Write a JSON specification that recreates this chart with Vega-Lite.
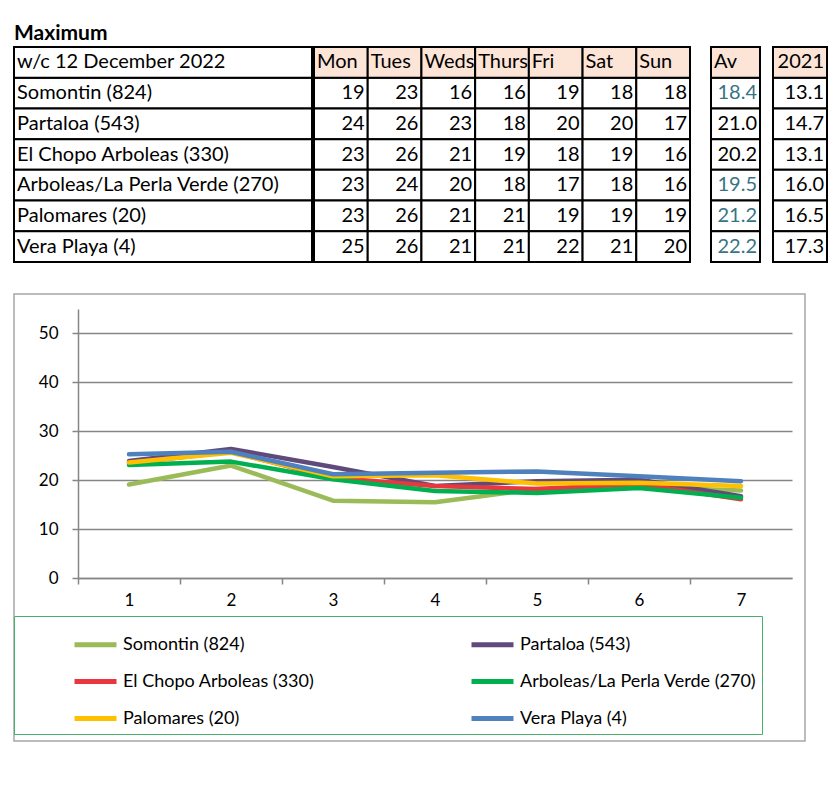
{
  "$schema": "https://vega.github.io/schema/vega-lite/v6.json",
  "background": "white",
  "padding": {"left": 13, "top": 23, "right": 5, "bottom": 5},
  "config": {
    "font": "Lato",
    "view": {"stroke": null},
    "text": {"font": "Lato"},
    "title": {"font": "Lato"}
  },
  "title": {"text": "Maximum", "anchor": "start", "fontSize": 21, "fontWeight": "bold", "color": "#000000", "offset": 2, "frame": "group"},
  "spacing": 30,
  "datasets": {
    "daily": [
      {"station": "Somontin (824)", "day": "Mon", "n": 1, "max": 19, "plot": 19.1},
      {"station": "Somontin (824)", "day": "Tues", "n": 2, "max": 23, "plot": 23.0},
      {"station": "Somontin (824)", "day": "Weds", "n": 3, "max": 16, "plot": 15.8},
      {"station": "Somontin (824)", "day": "Thurs", "n": 4, "max": 16, "plot": 15.5},
      {"station": "Somontin (824)", "day": "Fri", "n": 5, "max": 19, "plot": 18.2},
      {"station": "Somontin (824)", "day": "Sat", "n": 6, "max": 18, "plot": 18.6},
      {"station": "Somontin (824)", "day": "Sun", "n": 7, "max": 18, "plot": 17.9},
      {"station": "Partaloa (543)", "day": "Mon", "n": 1, "max": 24, "plot": 23.9},
      {"station": "Partaloa (543)", "day": "Tues", "n": 2, "max": 26, "plot": 26.4},
      {"station": "Partaloa (543)", "day": "Weds", "n": 3, "max": 23, "plot": 22.7},
      {"station": "Partaloa (543)", "day": "Thurs", "n": 4, "max": 18, "plot": 18.8},
      {"station": "Partaloa (543)", "day": "Fri", "n": 5, "max": 20, "plot": 19.8},
      {"station": "Partaloa (543)", "day": "Sat", "n": 6, "max": 20, "plot": 20.1},
      {"station": "Partaloa (543)", "day": "Sun", "n": 7, "max": 17, "plot": 16.7},
      {"station": "El Chopo  Arboleas (330)", "day": "Mon", "n": 1, "max": 23, "plot": 23.5},
      {"station": "El Chopo  Arboleas (330)", "day": "Tues", "n": 2, "max": 26, "plot": 25.8},
      {"station": "El Chopo  Arboleas (330)", "day": "Weds", "n": 3, "max": 21, "plot": 20.5},
      {"station": "El Chopo  Arboleas (330)", "day": "Thurs", "n": 4, "max": 19, "plot": 18.8},
      {"station": "El Chopo  Arboleas (330)", "day": "Fri", "n": 5, "max": 18, "plot": 18.2},
      {"station": "El Chopo  Arboleas (330)", "day": "Sat", "n": 6, "max": 19, "plot": 19.2},
      {"station": "El Chopo  Arboleas (330)", "day": "Sun", "n": 7, "max": 16, "plot": 16.1},
      {"station": "Arboleas/La Perla Verde (270)", "day": "Mon", "n": 1, "max": 23, "plot": 23.1},
      {"station": "Arboleas/La Perla Verde (270)", "day": "Tues", "n": 2, "max": 24, "plot": 23.8},
      {"station": "Arboleas/La Perla Verde (270)", "day": "Weds", "n": 3, "max": 20, "plot": 20.2},
      {"station": "Arboleas/La Perla Verde (270)", "day": "Thurs", "n": 4, "max": 18, "plot": 17.8},
      {"station": "Arboleas/La Perla Verde (270)", "day": "Fri", "n": 5, "max": 17, "plot": 17.4},
      {"station": "Arboleas/La Perla Verde (270)", "day": "Sat", "n": 6, "max": 18, "plot": 18.4},
      {"station": "Arboleas/La Perla Verde (270)", "day": "Sun", "n": 7, "max": 16, "plot": 16.4},
      {"station": "Palomares (20)", "day": "Mon", "n": 1, "max": 23, "plot": 23.6},
      {"station": "Palomares (20)", "day": "Tues", "n": 2, "max": 26, "plot": 25.6},
      {"station": "Palomares (20)", "day": "Weds", "n": 3, "max": 21, "plot": 20.8},
      {"station": "Palomares (20)", "day": "Thurs", "n": 4, "max": 21, "plot": 21.0},
      {"station": "Palomares (20)", "day": "Fri", "n": 5, "max": 19, "plot": 19.3},
      {"station": "Palomares (20)", "day": "Sat", "n": 6, "max": 19, "plot": 19.5},
      {"station": "Palomares (20)", "day": "Sun", "n": 7, "max": 19, "plot": 18.8},
      {"station": "Vera Playa (4)", "day": "Mon", "n": 1, "max": 25, "plot": 25.3},
      {"station": "Vera Playa (4)", "day": "Tues", "n": 2, "max": 26, "plot": 25.8},
      {"station": "Vera Playa (4)", "day": "Weds", "n": 3, "max": 21, "plot": 21.2},
      {"station": "Vera Playa (4)", "day": "Thurs", "n": 4, "max": 21, "plot": 21.5},
      {"station": "Vera Playa (4)", "day": "Fri", "n": 5, "max": 22, "plot": 21.8},
      {"station": "Vera Playa (4)", "day": "Sat", "n": 6, "max": 21, "plot": 20.8},
      {"station": "Vera Playa (4)", "day": "Sun", "n": 7, "max": 20, "plot": 19.8}
    ],
    "stations": [
      {"station": "Somontin (824)", "av": 18.4, "y2021": 13.1},
      {"station": "Partaloa (543)", "av": 21.0, "y2021": 14.7},
      {"station": "El Chopo  Arboleas (330)", "av": 20.2, "y2021": 13.1},
      {"station": "Arboleas/La Perla Verde (270)", "av": 19.5, "y2021": 16.0},
      {"station": "Palomares (20)", "av": 21.2, "y2021": 16.5},
      {"station": "Vera Playa (4)", "av": 22.2, "y2021": 17.3}
    ],
    "days": [
      {"day": "Mon"}, {"day": "Tues"}, {"day": "Weds"}, {"day": "Thurs"}, {"day": "Fri"}, {"day": "Sat"}, {"day": "Sun"}
    ]
  },
  "vconcat": [
    {
      "hconcat": [
        {
          "hconcat": [
            {
              "hconcat": [
                {
                  "width": 298,
                  "height": 215,
                  "encoding": {
                    "y": {"field": "station", "type": "nominal", "axis": null,
                      "scale": {"domain": ["w/c 12 December 2022", "Somontin (824)", "Partaloa (543)", "El Chopo  Arboleas (330)", "Arboleas/La Perla Verde (270)", "Palomares (20)", "Vera Playa (4)"], "paddingInner": 0, "paddingOuter": 0}},
                    "x": {"datum": "name", "type": "nominal", "axis": null, "scale": {"paddingInner": 0, "paddingOuter": 0}}
                  },
                  "layer": [
                    {"data": {"name": "stations"}, "mark": {"type": "bar", "fill": "white", "stroke": "black", "strokeWidth": 2}},
                    {"data": {"name": "stations"}, "mark": {"type": "text", "align": "left", "dx": 3, "fontSize": 20, "color": "black"},
                      "encoding": {"text": {"field": "station"}, "x": {"datum": "name", "type": "nominal", "bandPosition": 0}}},
                    {"data": {"values": [{"station": "w/c 12 December 2022"}]}, "mark": {"type": "bar", "fill": "white", "stroke": "black", "strokeWidth": 2}},
                    {"data": {"values": [{"station": "w/c 12 December 2022"}]}, "mark": {"type": "text", "align": "left", "dx": 3, "fontSize": 20, "color": "black"},
                      "encoding": {"text": {"field": "station"}, "x": {"datum": "name", "type": "nominal", "bandPosition": 0}}}
                  ]
                },
                {
                  "width": 376,
                  "height": 215,
                  "encoding": {
                    "y": {"field": "station", "type": "nominal", "axis": null,
                      "scale": {"domain": ["w/c 12 December 2022", "Somontin (824)", "Partaloa (543)", "El Chopo  Arboleas (330)", "Arboleas/La Perla Verde (270)", "Palomares (20)", "Vera Playa (4)"], "paddingInner": 0, "paddingOuter": 0}},
                    "x": {"field": "day", "type": "nominal", "axis": null,
                      "scale": {"domain": ["Mon", "Tues", "Weds", "Thurs", "Fri", "Sat", "Sun"], "paddingInner": 0, "paddingOuter": 0}}
                  },
                  "layer": [
                    {"data": {"name": "daily"}, "mark": {"type": "bar", "fill": "white", "stroke": "black", "strokeWidth": 2}},
                    {"data": {"name": "daily"}, "mark": {"type": "text", "align": "right", "dx": -3, "fontSize": 20, "color": "black"},
                      "encoding": {"text": {"field": "max"}, "x": {"field": "day", "type": "nominal", "bandPosition": 1}}},
                    {"data": {"name": "days"}, "mark": {"type": "bar", "fill": "#fce4d6", "stroke": "black", "strokeWidth": 2},
                      "encoding": {"y": {"datum": "w/c 12 December 2022", "type": "nominal"}}},
                    {"data": {"name": "days"}, "mark": {"type": "text", "align": "left", "dx": 3, "fontSize": 20, "color": "black"},
                      "encoding": {"y": {"datum": "w/c 12 December 2022", "type": "nominal"}, "text": {"field": "day"}, "x": {"field": "day", "type": "nominal", "bandPosition": 0}}}
                  ]
                }
              ],
              "spacing": 0
            },
            {
              "width": 49,
              "height": 215,
              "encoding": {
                "y": {"field": "station", "type": "nominal", "axis": null,
                  "scale": {"domain": ["w/c 12 December 2022", "Somontin (824)", "Partaloa (543)", "El Chopo  Arboleas (330)", "Arboleas/La Perla Verde (270)", "Palomares (20)", "Vera Playa (4)"], "paddingInner": 0, "paddingOuter": 0}},
                "x": {"datum": "Av", "type": "nominal", "axis": null, "scale": {"paddingInner": 0, "paddingOuter": 0}}
              },
              "layer": [
                {"data": {"name": "stations"}, "mark": {"type": "bar", "fill": "white", "stroke": "black", "strokeWidth": 2}},
                {"data": {"name": "stations"}, "mark": {"type": "text", "align": "right", "dx": -3, "fontSize": 20},
                  "encoding": {"text": {"field": "av", "format": ".1f"}, "x": {"datum": "Av", "type": "nominal", "bandPosition": 1},
                    "color": {"condition": {"test": "datum.station === 'Partaloa (543)' || datum.station === 'El Chopo  Arboleas (330)'", "value": "#000000"}, "value": "#3a7383"}}},
                {"data": {"values": [{"station": "w/c 12 December 2022", "h": "Av"}]}, "mark": {"type": "bar", "fill": "#fce4d6", "stroke": "black", "strokeWidth": 2}},
                {"data": {"values": [{"station": "w/c 12 December 2022", "h": "Av"}]}, "mark": {"type": "text", "align": "left", "dx": 3, "fontSize": 20, "color": "black"},
                  "encoding": {"text": {"field": "h"}, "x": {"datum": "Av", "type": "nominal", "bandPosition": 0}}}
              ]
            }
          ],
          "spacing": 19
        },
        {
          "width": 54,
          "height": 215,
          "encoding": {
            "y": {"field": "station", "type": "nominal", "axis": null,
              "scale": {"domain": ["w/c 12 December 2022", "Somontin (824)", "Partaloa (543)", "El Chopo  Arboleas (330)", "Arboleas/La Perla Verde (270)", "Palomares (20)", "Vera Playa (4)"], "paddingInner": 0, "paddingOuter": 0}},
            "x": {"datum": "2021", "type": "nominal", "axis": null, "scale": {"paddingInner": 0, "paddingOuter": 0}}
          },
          "layer": [
            {"data": {"name": "stations"}, "mark": {"type": "bar", "fill": "white", "stroke": "black", "strokeWidth": 2}},
            {"data": {"name": "stations"}, "mark": {"type": "text", "align": "right", "dx": -3, "fontSize": 20, "color": "black"},
              "encoding": {"text": {"field": "y2021", "format": ".1f"}, "x": {"datum": "2021", "type": "nominal", "bandPosition": 1}}},
            {"data": {"values": [{"station": "w/c 12 December 2022", "h": "2021"}]}, "mark": {"type": "bar", "fill": "#fce4d6", "stroke": "black", "strokeWidth": 2}},
            {"data": {"values": [{"station": "w/c 12 December 2022", "h": "2021"}]}, "mark": {"type": "text", "align": "right", "dx": -3, "fontSize": 20, "color": "black"},
              "encoding": {"text": {"field": "h"}, "x": {"datum": "2021", "type": "nominal", "bandPosition": 1}}}
          ]
        }
      ],
      "spacing": 11
    },
    {
      "width": 791,
      "height": 447,
      "view": {"stroke": "#a6a6a6", "strokeWidth": 1.5},
      "data": {"name": "daily"},
      "mark": {"type": "line", "strokeWidth": 4.5, "strokeCap": "round", "strokeJoin": "round"},
      "encoding": {
        "x": {"field": "n", "type": "quantitative",
          "scale": {"domain": [0.5, 7.5], "range": [64, 778], "nice": false, "zero": false},
          "axis": {"title": null, "values": [1, 2, 3, 4, 5, 6, 7], "offset": -163, "grid": false,
            "domainColor": "#868686", "domainWidth": 1.5, "tickColor": "#868686", "tickWidth": 1.5, "tickSize": 6,
            "tickOffset": -51, "labelOffset": 51, "labelFontSize": 17, "labelColor": "#000000", "labelPadding": 8, "labelFont": "Lato"}},
        "y": {"field": "plot", "type": "quantitative",
          "scale": {"domain": [0, 55], "range": [284, 15], "nice": false, "zero": true},
          "axis": {"title": null, "values": [0, 10, 20, 30, 40, 50], "offset": -64, "grid": true, "gridColor": "#868686", "gridWidth": 1.5,
            "domainColor": "#868686", "domainWidth": 1.5, "tickColor": "#868686", "tickWidth": 1.5, "tickSize": 6,
            "labelFontSize": 17, "labelColor": "#000000", "labelPadding": 14, "labelFont": "Lato"}},
        "color": {"field": "station", "type": "nominal",
          "scale": {"domain": ["Somontin (824)", "Partaloa (543)", "El Chopo  Arboleas (330)", "Arboleas/La Perla Verde (270)", "Palomares (20)", "Vera Playa (4)"],
            "range": ["#9bbb59", "#604a7b", "#e8373e", "#00b050", "#ffc000", "#4f81bd"]},
          "legend": {"title": null, "orient": "none", "legendX": 0, "legendY": 569, "columns": 2, "direction": "horizontal",
            "strokeColor": "#4aae6c", "padding": 5, "symbolType": "stroke", "symbolSize": 1764, "symbolStrokeWidth": 5,
            "symbolOffset": 53, "labelOffset": 4, "labelFontSize": 18, "labelFont": "Lato", "labelColor": "#000000",
            "columnPadding": 97, "rowPadding": 3, "labelLimit": 400}}
      }
    }
  ]
}
